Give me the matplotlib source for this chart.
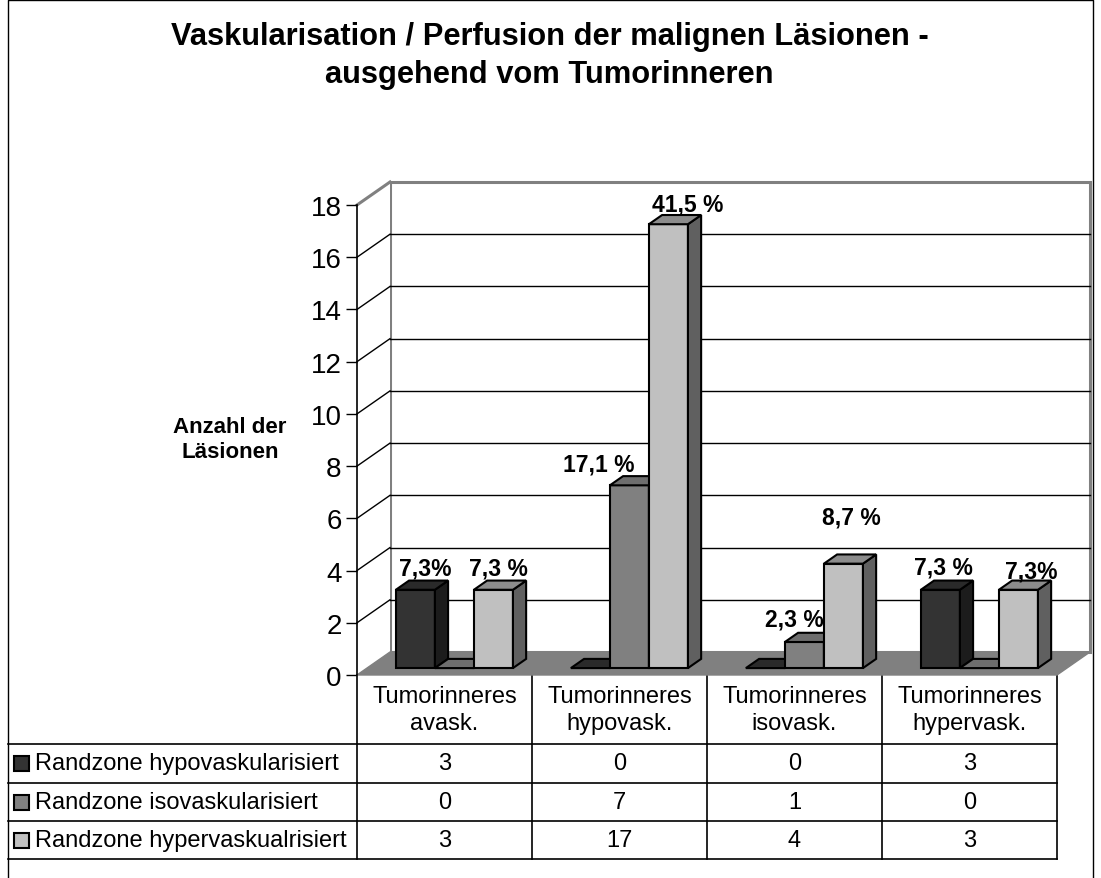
import numpy as np
import matplotlib.pyplot as plt
from matplotlib.patches import Polygon, Rectangle
from matplotlib.lines import Line2D
from matplotlib.transforms import IdentityTransform

plt.rcParams['font.family'] = ['Liberation Sans', 'DejaVu Sans']

# data
categories = ["Tumorinneres\navask.", "Tumorinneres\nhypovask.",
              "Tumorinneres\nisovask.", "Tumorinneres\nhypervask."]
series_names = ["Randzone hypovaskularisiert", "Randzone isovaskularisiert",
                "Randzone hypervaskualrisiert"]
hypo = [3, 0, 0, 3]
iso = [0, 7, 1, 0]
hyper = [3, 17, 4, 3]
hypo_pct = ["7,3%", None, None, "7,3 %"]
iso_pct = [None, "17,1 %", "2,3 %", None]
hyper_pct = ["7,3 %", "41,5 %", "8,7 %", "7,3%"]
yticks = list(range(0, 19, 2))

series = [hypo, iso, hyper]
pcts = [hypo_pct, iso_pct, hyper_pct]

# styling
front_c = ['#333333', '#808080', '#c0c0c0']
top_c = ['#2a2a2a', '#6e6e6e', '#8c8c8c']
side_c = ['#1c1c1c', '#555555', '#606060']
# label offsets in pixels from the top of each bar
label_off = [[(10, 22), None, None, (3, 23)],
             [None, (-31, 21), (-10, 23), None],
             [(5, 22), (19, 20), (8, 47), (13, 19)]]

W, H = 1101, 879
fig = plt.figure(figsize=(W / 100, H / 100), dpi=100)
ax = fig.add_axes([357 / W, (H - 676) / H, 700 / W, 470 / H])
ax.set_xlim(-0.5, 3.5)
ax.set_ylim(0, 18)
ax.patch.set_visible(False)
for s in ['top', 'right', 'bottom']:
    ax.spines[s].set_visible(False)
ax.spines['left'].set_linewidth(1.2)
ax.set_xticks([])
ax.set_yticks(yticks)
ax.tick_params(axis='y', labelsize=20, length=8, width=1, pad=3)

DEPTH = np.array([33.0, 23.0])
IDT = IdentityTransform()


def disp(x, y, d=0.0):
    return ax.transData.transform((x, y)) + d * DEPTH


def poly(pts, fc, ec='black', lw=1.5, z=3):
    ax.add_patch(Polygon(pts, closed=True, facecolor=fc, edgecolor=ec, lw=lw,
                         transform=IDT, clip_on=False, zorder=z, joinstyle='miter'))


def line(p0, p1, color='black', lw=1, z=1.5):
    ax.add_line(Line2D([p0[0], p1[0]], [p0[1], p1[1]], color=color, lw=lw,
                       transform=IDT, clip_on=False, zorder=z))


# walls and floor
poly([disp(-0.5, 0, 1), disp(3.5, 0, 1), disp(3.5, 18, 1), disp(-0.5, 18, 1)],
     'white', ec='#808080', lw=2.2, z=1)
poly([disp(-0.5, 0, 0), disp(-0.5, 0, 1), disp(-0.5, 18, 1), disp(-0.5, 18, 0)],
     'white', ec='none', lw=0, z=1)
for v in yticks[1:-1]:
    line(disp(-0.5, v, 0), disp(-0.5, v, 1))
    line(disp(-0.5, v, 1), disp(3.5, v, 1))
line(disp(-0.5, 18, 0), disp(-0.5, 18, 1), color='#808080', lw=2.2)
poly([disp(-0.5, 0, 0), disp(3.5, 0, 0), disp(3.5, 0, 1), disp(-0.5, 0, 1)],
     '#808080', ec='#808080', lw=1, z=2)

# bars
bw = 0.223
d0, d1 = 0.3, 0.7
for i in range(len(categories)):
    for k in range(len(series)):
        h = series[k][i]
        xl = i + (k - 1.5) * bw
        xr = xl + bw
        if h > 0:
            poly([disp(xl, 0, d0), disp(xr, 0, d0), disp(xr, h, d0), disp(xl, h, d0)], front_c[k])
            poly([disp(xr, 0, d0), disp(xr, 0, d1), disp(xr, h, d1), disp(xr, h, d0)], side_c[k])
        poly([disp(xl, h, d0), disp(xr, h, d0), disp(xr, h, d1), disp(xl, h, d1)], top_c[k])
        if pcts[k][i]:
            p = disp(xl + bw / 2, h, d0) + np.array(label_off[k][i])
            ax.text(p[0], p[1], pcts[k][i], transform=IDT, ha='center', va='center',
                    fontsize=16.5, fontweight='bold', zorder=5)

# title and axis label
fig.text(549.5 / W, 1 - 45 / H, "Vaskularisation / Perfusion der malignen Läsionen -",
         ha='center', va='baseline', fontsize=22.2, fontweight='bold')
fig.text(549.5 / W, 1 - 83 / H, "ausgehend vom Tumorinneren",
         ha='center', va='baseline', fontsize=22.2, fontweight='bold')
ax.set_ylabel("Anzahl der\nLäsionen", rotation=0, fontsize=16, fontweight='bold',
              ha='center', va='center', linespacing=1.2)
ax.yaxis.set_label_coords((230 - 357) / 700, (676 - 440) / 470)

# data table
rows_y = [676, 745, 784, 822, 860]
left_x = 8
for yy in rows_y[1:]:
    line((left_x, H - yy), (disp(3.5, 0)[0], H - yy), lw=1.2)
for j in range(len(categories) + 1):
    xx = disp(j - 0.5, 0)[0]
    line((xx, H - rows_y[0]), (xx, H - rows_y[-1]), lw=1.2)
for i, cat in enumerate(categories):
    cx = disp(i, 0)[0]
    ax.text(cx, H - (rows_y[0] + rows_y[1]) / 2, cat, transform=IDT, ha='center',
            va='center', fontsize=17, linespacing=1.25)
    for k in range(len(series)):
        ax.text(cx, H - (rows_y[k + 1] + rows_y[k + 2]) / 2, str(series[k][i]),
                transform=IDT, ha='center', va='center', fontsize=17)
for k, name in enumerate(series_names):
    cy = H - (rows_y[k + 1] + rows_y[k + 2]) / 2
    ax.add_patch(Rectangle((14, cy - 7.5), 15, 15, facecolor=front_c[k], edgecolor='black',
                           lw=1.5, transform=IDT, clip_on=False))
    ax.text(35, cy, name, transform=IDT, ha='left', va='center', fontsize=17)

# outer frame (left, top, right)
fig.add_artist(Line2D([8, 8, 1093, 1093], [0, H - 1, H - 1, 0], color='black', lw=1,
                      transform=IDT))

fig.savefig("out.png", dpi=100)
